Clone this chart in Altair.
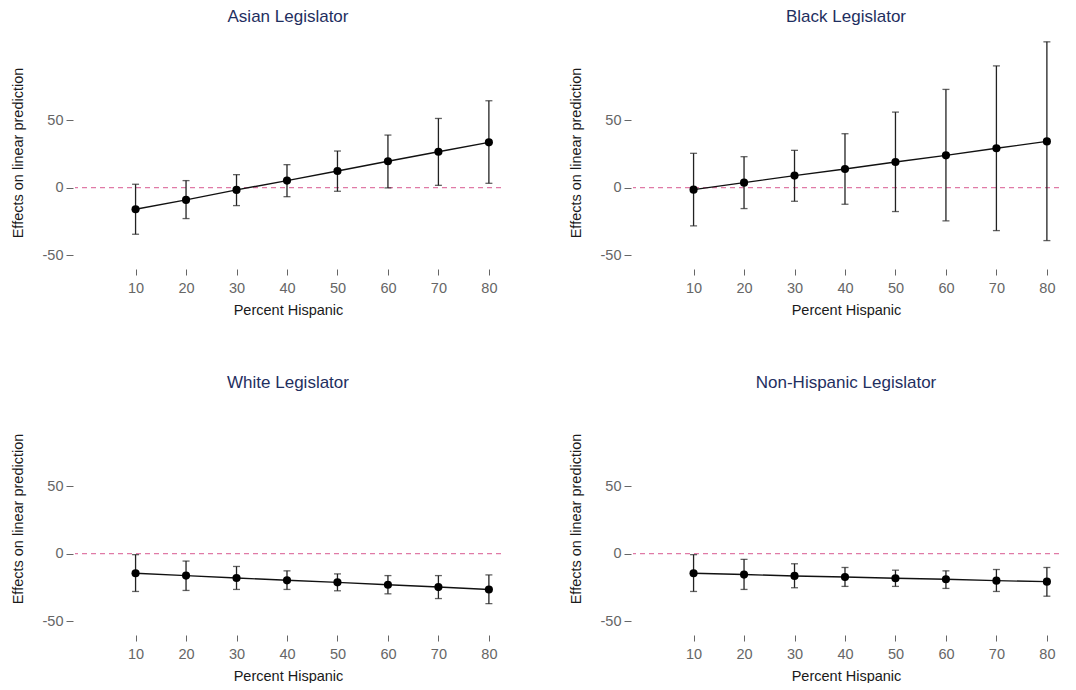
import altair as alt
import pandas as pd

pct = [10, 20, 30, 40, 50, 60, 70, 80]

asian_est = [-16.0, -9.1, -1.7, 5.2, 12.3, 19.5, 26.6, 33.5]
asian_lo = [-34.5, -22.9, -13.3, -6.7, -2.7, -0.2, 1.7, 3.2]
asian_hi = [2.5, 5.2, 9.6, 17.0, 27.1, 38.9, 51.2, 64.3]

black_est = [-1.5, 3.7, 8.9, 13.8, 19.0, 23.9, 29.1, 34.2]
black_lo = [-28.3, -15.5, -10.1, -12.3, -17.7, -24.6, -31.8, -39.2]
black_hi = [25.4, 22.9, 27.6, 39.9, 55.9, 72.7, 90.1, 107.9]

white_est = [-14.5, -16.25, -18.0, -19.75, -21.25, -23.0, -24.75, -26.5]
white_lo = [-28.0, -27.25, -26.5, -26.5, -27.5, -29.75, -33.25, -37.0]
white_hi = [-0.75, -5.5, -9.5, -12.75, -15.0, -16.25, -16.25, -15.75]

nonhisp_est = [-14.5, -15.5, -16.5, -17.25, -18.25, -19.0, -20.0, -20.75]
nonhisp_lo = [-28.0, -26.5, -25.25, -24.25, -24.25, -25.75, -28.0, -31.5]
nonhisp_hi = [-0.75, -4.25, -7.5, -10.25, -12.25, -12.75, -11.75, -10.25]

titles = ["Asian Legislator", "Black Legislator", "White Legislator", "Non-Hispanic Legislator"]
series = [
    (asian_est, asian_lo, asian_hi),
    (black_est, black_lo, black_hi),
    (white_est, white_lo, white_hi),
    (nonhisp_est, nonhisp_lo, nonhisp_hi),
]

FONT = "Liberation Sans"
W, H = 426, 227
XDOM = [-2, 82.4]
YDOM = [-58, 110]


def panel(title, est, lo, hi):
    df = pd.DataFrame({"pct": pct, "est": est, "lo": lo, "hi": hi})
    base = alt.Chart(df)
    ysc = alt.Scale(domain=YDOM, nice=False, zero=False)
    x = alt.X(
        "pct:Q",
        scale=alt.Scale(domain=XDOM, nice=False, zero=False),
        axis=alt.Axis(
            title="Percent Hispanic",
            values=pct,
            offset=3,
            tickSize=6,
            labelPadding=6,
            titlePadding=9,
        ),
    )
    y = alt.Y(
        "est:Q",
        scale=ysc,
        axis=alt.Axis(
            title="Effects on linear prediction",
            values=[-50, 0, 50],
            offset=2,
            tickSize=7,
            labelPadding=3,
            titlePadding=17,
            labelExpr="'' + datum.value",
        ),
    )
    zero = alt.Chart(pd.DataFrame({"z": [0]})).mark_rule(
        color="#e07aa6", strokeDash=[5, 4], strokeWidth=1.1
    ).encode(y=alt.Y("z:Q", scale=ysc))
    bars = base.mark_rule(color="#222222", strokeWidth=1.3).encode(
        x=x, y=alt.Y("lo:Q", scale=ysc), y2="hi:Q"
    )
    cap_lo = base.mark_tick(orient="horizontal", size=7, thickness=1.3, color="#222222").encode(
        x=x, y=alt.Y("lo:Q", scale=ysc)
    )
    cap_hi = base.mark_tick(orient="horizontal", size=7, thickness=1.3, color="#222222").encode(
        x=x, y=alt.Y("hi:Q", scale=ysc)
    )
    line = base.mark_line(color="#111111", strokeWidth=1.4).encode(x=x, y=y)
    pts = base.mark_circle(color="#000000", size=66, opacity=1).encode(x=x, y=y)
    return alt.layer(zero, bars, cap_lo, cap_hi, line, pts).properties(
        width=W,
        height=H,
        title=alt.TitleParams(
            title, fontSize=17, font=FONT, color="#1f2f5f", fontWeight="normal", offset=13
        ),
    )


panels = [panel(t, *s) for t, s in zip(titles, series)]

chart = alt.vconcat(
    alt.hconcat(panels[0], panels[1], spacing=66),
    alt.hconcat(panels[2], panels[3], spacing=66),
    spacing=57,
).properties(
    padding={"left": 2, "top": 0, "right": 5, "bottom": 0}
).configure_view(stroke=None).configure_axis(
    grid=False,
    domain=False,
    labelFont=FONT,
    titleFont=FONT,
    labelFontSize=14.5,
    titleFontSize=14.5,
    labelColor="#666666",
    titleColor="#1a1a1a",
    titleFontWeight="normal",
    tickColor="#666666",
    tickWidth=1,
)

chart.save("out.html", embed_options={"renderer": "svg", "actions": False})
